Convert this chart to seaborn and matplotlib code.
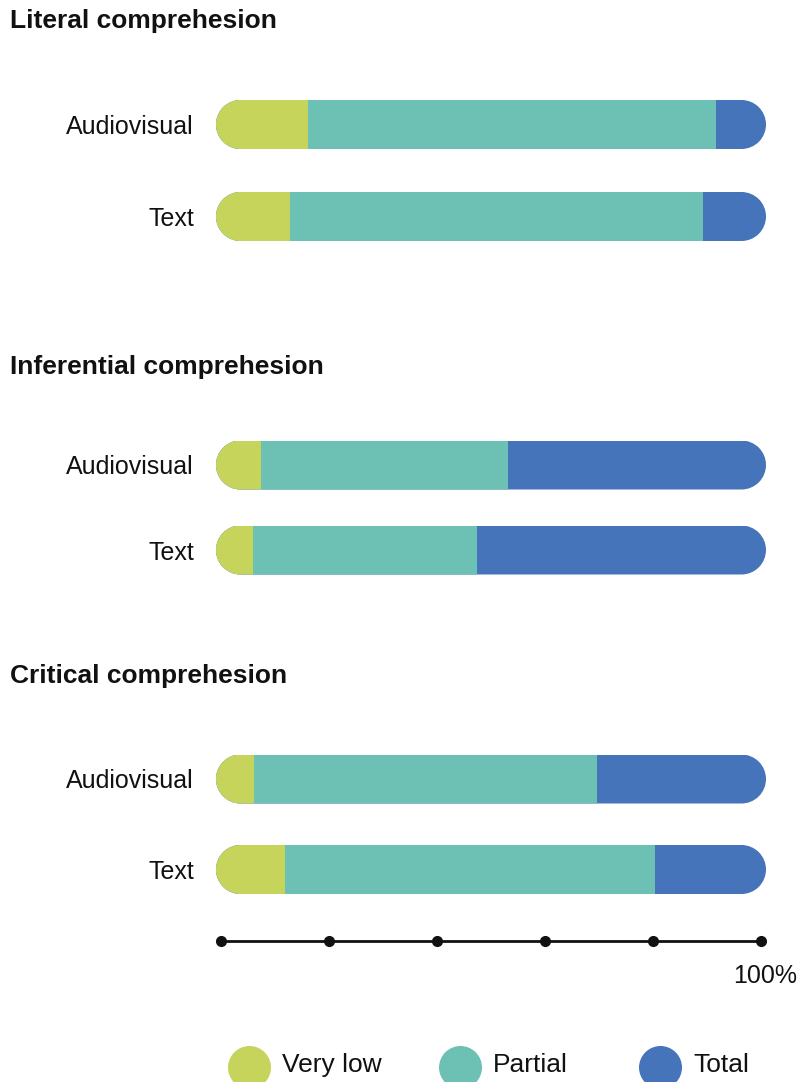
import matplotlib
matplotlib.use("Agg")
import matplotlib.pyplot as plt
from matplotlib.path import Path
from matplotlib.transforms import IdentityTransform, Affine2D
import numpy as np
import seaborn as sns
import pandas as pd

# ---- data (percent of students) ----
sections = ["Literal comprehesion", "Inferential comprehesion", "Critical comprehesion"]
groups = ["Audiovisual", "Text"]
levels = ["Very low", "Partial", "Total"]
very_low = [[16.8, 13.5], [8.2, 6.7], [6.9, 12.6]]
partial = [[74.1, 75.0], [44.8, 40.7], [62.3, 67.2]]
total = [[9.1, 11.5], [47.0, 52.6], [30.8, 20.2]]
axis_ticks = [0, 20, 40, 60, 80, 100]

colors = {"Very low": "#C6D45B", "Partial": "#6CC1B4", "Total": "#4574BA"}

sns.set_theme(style="white")
plt.rcParams["font.family"] = ["Liberation Sans", "DejaVu Sans"]

W, H = 801, 1082
DPI = 100
fig = plt.figure(figsize=(W / DPI, H / DPI), dpi=DPI)
fig.patch.set_facecolor("white")


def px_axes(left, top, width, height, **kw):
    return fig.add_axes([left / W, 1 - (top + height) / H, width / W, height / H], **kw)


def stadium(x0, x1, ylo, yhi):
    """Pill-shaped path (semicircular ends) in display coordinates."""
    r = (yhi - ylo) / 2
    yc = (ylo + yhi) / 2
    left = Path.arc(90, 270)
    right = Path.arc(-90, 90)
    lv = Affine2D().scale(r).translate(x0 + r, yc).transform(left.vertices)
    rv = Affine2D().scale(r).translate(x1 - r, yc).transform(right.vertices)
    lc = left.codes.copy()
    rc = right.codes.copy()
    rc[0] = Path.LINETO
    verts = np.vstack([lv, rv, lv[:1]])
    codes = np.concatenate([lc, rc, [Path.CLOSEPOLY]])
    return Path(verts, codes)


BAR_LEFT, BAR_RIGHT = 216, 766
BAR_H = 49
bar_centers = [(124.5, 216.5), (465, 550), (779, 869.5)]
title_baselines = [28, 374, 683]

for si, name in enumerate(sections):
    c1, c2 = bar_centers[si]
    step = c2 - c1
    ax = px_axes(BAR_LEFT, c1 - step / 2, BAR_RIGHT - BAR_LEFT, 2 * step)
    df = pd.DataFrame({
        "group": groups,
        "Very low": very_low[si],
        "Partial": partial[si],
        "Total": total[si],
    })
    # stacked bars: draw cumulative sums from the outermost layer inwards
    df["cum_Very low"] = df["Very low"]
    df["cum_Partial"] = df["Very low"] + df["Partial"]
    df["cum_Total"] = df["cum_Partial"] + df["Total"]
    for lvl in reversed(levels):
        sns.barplot(data=df, x="cum_" + lvl, y="group", order=groups, orient="h",
                    color=colors[lvl], saturation=1, width=BAR_H / step,
                    linewidth=0, ax=ax)
    ax.set_xlim(0, 100)
    ax.set_ylim(1.5, -0.5)
    ax.set_xlabel("")
    ax.set_ylabel("")
    ax.set_xticks([])
    for sp in ax.spines.values():
        sp.set_visible(False)
    ax.tick_params(axis="y", length=0, pad=16, labelsize=18, labelcolor="#111111")
    ax.patch.set_alpha(0)

    # round the ends of each full bar
    for yi in range(len(groups)):
        (x0, y0) = ax.transData.transform((0, yi + BAR_H / step / 2))
        (x1, y1) = ax.transData.transform((100, yi - BAR_H / step / 2))
        clip = stadium(x0, x1, min(y0, y1), max(y0, y1))
        for p in ax.patches:
            bb = p.get_bbox()
            if abs((bb.y0 + bb.y1) / 2 - yi) < 1e-6:
                p.set_clip_path(clip, IdentityTransform())

    fig.text(10 / W, 1 - title_baselines[si] / H, name, fontsize=19, fontweight="bold",
             color="#111111", ha="left", va="baseline")

# ---- percentage scale ----
axs = px_axes(221, 926, 761 - 221, 30)
axs.plot(axis_ticks, [0] * len(axis_ticks), color="#111111", linewidth=2,
         marker="o", markersize=7, solid_capstyle="butt", clip_on=False)
axs.set_xlim(0, 100)
axs.set_ylim(-1, 1)
axs.axis("off")
fig.text(797 / W, 1 - 983 / H, f"{axis_ticks[-1]}%", fontsize=18, color="#111111",
         ha="right", va="baseline")

# ---- legend ----
axl = fig.add_axes([0, 0, 1, 1], zorder=-1)
axl.set_xlim(0, W)
axl.set_ylim(H, 0)
axl.axis("off")
legend_x = [248.5, 459.5, 660]
for lx, lvl in zip(legend_x, levels):
    axl.scatter([lx], [1067], s=(43 * 0.72) ** 2, color=colors[lvl], linewidths=0)
    axl.text(lx + 33.5, 1072, lvl, fontsize=19, color="#111111", ha="left",
             va="baseline")

fig.savefig("out.png", dpi=DPI, facecolor="white")
